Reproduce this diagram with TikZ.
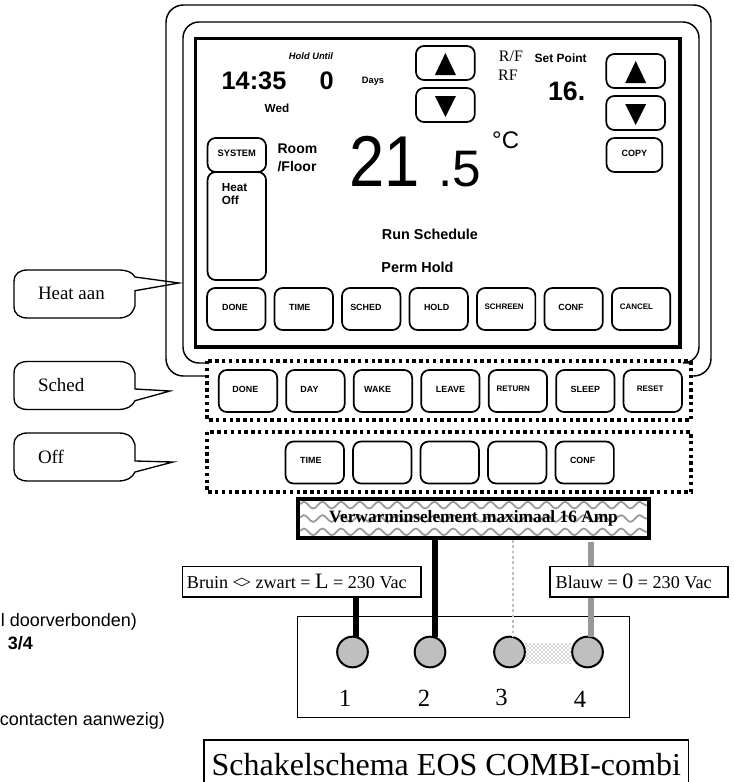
\documentclass[tikz,border=0pt]{standalone}
\usepackage{fontspec}
\usepackage{graphicx}
\setmainfont{Liberation Sans}
\newfontfamily\tnr{Liberation Serif}
\usetikzlibrary{positioning, patterns, decorations.pathmorphing}

% speech balloon: top, tail start, tip x, tip y, tail end
\newcommand{\balloon}[5]{
  (14,#1+12) .. controls (14,#1+3) and (20,#1) .. (28,#1) -- (118,#1)
  .. controls (127,#1) and (132,{#1+2}) .. (135,{min(#2,#1+12)})
  -- (135,#2) -- (#3,#4) -- (135,#5) -- (135,{max(#5,#1+36)})
  .. controls (132,#1+45) and (127,#1+48) .. (118,#1+48) -- (28,#1+48)
  .. controls (20,#1+48) and (14,#1+45) .. (14,#1+36) -- cycle
}
% pull the text of a key to the left
\newcommand{\nudge}[1]{\kern-#1pt\relax}
% font size shorthand
\newcommand{\fs}[1]{\fontsize{#1}{#1}\selectfont}

\begin{document}
\begin{tikzpicture}[x=0.75pt,y=-0.75pt]

  % --- Styles ---
  \tikzset{
    % keys on the panel
    keybox/.style={
      draw=black,
      line width=1.3pt,
      fill=white,
      rounded corners=6pt,
      font=\fs{6.7}\bfseries,
      minimum width=43.8pt,
      minimum height=31.5pt,
      text depth=3pt,
      inner sep=0pt,
      outer sep=0pt
    },
    smallkey/.style={keybox, font=\fs{6}\bfseries},
    % up and down keys
    arrowkey/.style={keybox, minimum width=44.1pt, minimum height=25.5pt},
    dotframe/.style={
      draw=black,
      line width=2.3pt,
      dash pattern=on 2.6pt off 2.5pt
    },
    casing/.style={line width=1.1pt, rounded corners=13pt},
    txt/.style={inner sep=0pt, outer sep=0pt, font=\bfseries\fs{#1}},
    romantxt/.style={inner sep=0pt, outer sep=0pt, font=\tnr\fs{#1}},
    notetxt/.style={inner sep=0pt, outer sep=0pt, anchor=east, font=\fs{13.5}},
    balloonline/.style={line width=1pt},
    wave/.style={
      draw=black!40,
      line width=1.3pt,
      decorate,
      decoration={snake, segment length=14pt, amplitude=2.5pt}
    },
    colorlabel/.style={
      draw=black,
      line width=1pt,
      fill=white,
      minimum width=#1,
      minimum height=23pt,
      inner sep=0pt,
      outer sep=0pt,
      font=\tnr\fs{13.6}
    },
    terminal/.style={
      draw=black,
      line width=1.5pt,
      fill=black!25,
      circle,
      minimum size=23pt,
      inner sep=0pt,
      outer sep=0pt
    },
    wirebrown/.style={line width=3.9pt, draw=black},
    wiregrey/.style={line width=4.2pt, draw=black!40},
    wiredot/.style={line width=2pt, draw=black!25, dash pattern=on 2pt off 2pt}
  }
  \useasboundingbox (0,0) rectangle (734,782);

  % --- Casing ---
  \draw[casing] (207,376) -- (166,376) -- (166,5) -- (711,5) -- (711,376) -- (691,376);
  \draw[casing, rounded corners=12pt] (207,363) -- (183,363) -- (183,22) -- (699,22) -- (699,363) -- (691,363);
  \node[draw=black, line width=2.3pt, minimum width=363.7pt, minimum height=231.7pt, inner sep=0pt] (screen) at (437.5,192.5) {};

  % --- Top of the screen ---
  \node[txt=7, font=\bfseries\itshape\fs{7}] (holduntil) at (311,56) {Hold Until};
  \node[txt=19] (clock) at (254,81) {14:35};
  \node[txt=19] (zero) at (326.7,81) {0};
  \node[txt=7] (days) at (373,81) {Days};
  \node[txt=8.8] (wed) at (277,108) {Wed};
  \node[romantxt=12] (rf1) at (511,56) {R/F};
  \node[romantxt=12] (rf2) at (508,75) {RF};
  \node[txt=9] (setpoint) at (560.7,58) {Set Point};
  \node[txt=20] (setvalue) at (566.7,91) {16.};

  % arrows, left pair
  \node[arrowkey] (upleft) at (445.4,63) {};
  \node[arrowkey, below=6pt of upleft] (downleft) {};
  \fill (upleft.center) ++(-10.5,12) -- ++(21,0) -- ++(-10.5,-22) -- cycle;
  \fill (downleft.center) ++(-10.5,-9) -- ++(21,0) -- ++(-10.5,21) -- cycle;

  % arrows, right pair
  \node[arrowkey] (upright) at (635.7,71) {};
  \node[arrowkey, below=6pt of upright] (downright) {};
  \fill (upright.center) ++(-10.5,12) -- ++(21,0) -- ++(-10.5,-22) -- cycle;
  \fill (downright.center) ++(-10.5,-9) -- ++(21,0) -- ++(-10.5,21) -- cycle;
  \node[smallkey, font=\fs{6.8}\bfseries, minimum width=41.8pt, minimum height=25.5pt] (copy) at (634.4,155) {COPY};

  % --- Middle of the screen ---
  \node[keybox, minimum height=81pt] (heatbox) at (236.8,226) {};
  \node[keybox, minimum height=25.5pt, font=\fs{7}\bfseries] (system) at (236.8,155) {SYSTEM};
  \node[txt=8.8, anchor=north west, align=left, font=\bfseries\fontsize{8.8}{9.8}\selectfont] (heatoff) at (221.8,183) {Heat\\Off};
  \node[txt=10.5, anchor=north west, align=left, font=\bfseries\fontsize{10.5}{13.5}\selectfont] (room) at (277.6,144) {Room\\/Floor};
  \node[inner sep=0pt, font=\fs{54}] (tempmain) at (384.5,161) {\scalebox{.88}[1]{21}};
  \node[inner sep=0pt, font=\fs{38.5}] (tempdec) at (459.5,169.5) {.5};
  \node[inner sep=0pt, font=\fs{18}] (degree) at (505.7,140) {°C};
  \node[txt=10.8] (runsched) at (430,234) {Run Schedule};
  \node[txt=10.8] (permhold) at (417.5,267) {Perm Hold};

  % --- Keys inside the screen ---
  \node[keybox] (done) at (236.3,309) {\nudge{2}DONE};
  \node[keybox, right=6.8pt of done] (time) {\nudge{6}TIME};
  \node[keybox, right=6.8pt of time] (sched) {\nudge{8}SCHED};
  \node[keybox, right=6.8pt of sched] (hold) {\nudge{3}HOLD};
  \node[smallkey, right=6.8pt of hold] (schreen) {\nudge{3}SCHREEN};
  \node[keybox, right=6.8pt of schreen] (conf) {\nudge{4}CONF};
  \node[smallkey, right=6.8pt of conf] (cancel) {\nudge{7}CANCEL};

  % --- Second row ---
  \draw[dotframe] (207,361) rectangle (691,420);
  \node[keybox] (doneb) at (248,391) {\nudge{4}DONE};
  \node[keybox, right=6.8pt of doneb] (day) {\nudge{9}DAY};
  \node[keybox, right=6.8pt of day] (wake) {\nudge{8}WAKE};
  \node[keybox, right=6.8pt of wake] (leave) {LEAVE};
  \node[smallkey, right=6.8pt of leave] (return) {\nudge{7}RETURN};
  \node[keybox, right=6.8pt of return] (sleep) {SLEEP};
  \node[smallkey, right=6.8pt of sleep] (reset) {\nudge{4}RESET};

  % --- Third row ---
  \draw[dotframe] (207,432) rectangle (691,492);
  \node[keybox] (timec) at (314.8,462.5) {\nudge{6}TIME};
  \node[keybox, right=6.8pt of timec] (blanka) {};
  \node[keybox, right=6.8pt of blanka] (blankb) {};
  \node[keybox, right=6.8pt of blankb] (blankc) {};
  \node[keybox, right=6.8pt of blankc] (confc) {\nudge{3}CONF};

  % --- Balloons ---
  \draw[balloonline] \balloon{270}{277}{179}{283}{290.7};
  \draw[balloonline] \balloon{361.5}{389}{170}{391}{400.7};
  \draw[balloonline] \balloon{433}{461}{173}{462}{472};
  \node[romantxt=14.2, anchor=west] (heatlabel) at (38,293) {Heat aan};
  \node[romantxt=14.2, anchor=west] (schedlabel) at (38,385) {Sched};
  \node[romantxt=14.2, anchor=west] (offlabel) at (38,457) {Off};

  % --- Notes at the left edge ---
  \node[notetxt] (noteone) at (137,621.7) {l doorverbonden)};
  \node[notetxt] (notetwo) at (33,643) {\textbf{3/4}};
  \node[notetxt] (notethree) at (165,720.7) {contacten aanwezig)};

  % --- Heating element ---
  \node[
    draw=black,
    line width=2.6pt,
    minimum width=263.3pt,
    minimum height=29pt,
    inner sep=0pt,
    font=\tnr\bfseries\fs{13},
    path picture={
      \foreach \waveshift in {-10,0,10}
        \draw[wave] ([yshift=\waveshift pt]path picture bounding box.west) -- ([yshift=\waveshift pt]path picture bounding box.east);
    }
  ] (element) at (473.5,518.5) {Verwarminselement maximaal 16 Amp};

  % --- Terminal block ---
  \node[draw=black, line width=1.1pt, minimum width=249pt, minimum height=75.7pt, inner sep=0pt] (block) at (463.3,667.2) {};
  \node[minimum width=35pt, minimum height=15pt, inner sep=0pt, pattern=crosshatch dots, pattern color=black!65] (bridge) at (548.4,653) {};
  \node[terminal] (termone) at (352.5,652) {};
  \node[terminal] (termtwo) at (430,652) {};
  \node[terminal] (termthree) at (509.5,652) {};
  \node[terminal] (termfour) at (587.5,652) {};
  \node[romantxt=18.5] (numone) at (345,698) {1};
  \node[romantxt=18.5] (numtwo) at (424,698) {2};
  \node[romantxt=18.5] (numthree) at (501.6,697) {3};
  \node[romantxt=18.5] (numfour) at (580,699) {4};

  % --- Wires ---
  \coordinate (wireone) at (356,540);
  \coordinate (wiretwo) at (435,540);
  \coordinate (wirethree) at (513,540);
  \coordinate (wirefour) at (591,542);
  \draw[wirebrown] (wiretwo |- element.south) -- (wiretwo |- termtwo.north);
  \draw[wiredot] (wirethree) -- (wirethree |- termthree.north);
  \draw[wiregrey] (wirefour) -- (wirefour |- termfour.north);

  % --- Colour labels ---
  \node[colorlabel=179pt] (brown) at (301.5,581.5) {\nudge{7}Bruin <\kern-.12em> zwart = {\fs{16.5}L} = 230 Vac};
  \node[colorlabel=133.5pt] (blue) at (639,581.5) {\nudge{8}Blauw = {\fs{16.5}0} = 230 Vac};
  \draw[wirebrown] (wireone |- brown.south) -- (wireone |- termone.north);

  % --- Title ---
  \node[draw=black, line width=1.1pt, minimum width=363.5pt, minimum height=37.5pt, inner sep=0pt, font=\tnr\fs{24}] (title) at (446.3,765) {Schakelschema EOS COMBI-combi};

\end{tikzpicture}
\end{document}
